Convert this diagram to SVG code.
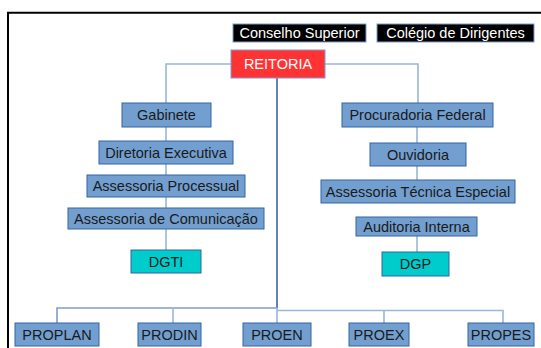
<svg xmlns="http://www.w3.org/2000/svg" width="541" height="348" viewBox="0 0 541 348">
<style>
text{font-family:"Liberation Sans",Arial,sans-serif;font-size:14.5px;text-anchor:middle;fill:#1a1a1a}
.b{fill:#729fcf;stroke:#3465a4;stroke-width:1}
.c{fill:#00cccc;stroke:#3465a4;stroke-width:1}
.k{fill:#000;stroke:#7f9ccc;stroke-width:1}
.r{fill:#ff3333;stroke:#7f9ccc;stroke-width:1}
.w{fill:#fff}
.l{stroke:#9ab6da;stroke-width:1.6;fill:none}
.d{stroke:#3c63a8;stroke-width:1.6;fill:none}
.m{stroke:#7f9ccc;stroke-width:1.6;fill:none}
</style>
<rect width="541" height="348" fill="#fff"/>
<path d="M8,348V12.7H541" fill="none" stroke="#000" stroke-width="2"/>
<g id="connectors">
<path class="l" d="M166,103V64H418V103"/>
<path class="l" d="M166,127V250"/>
<path class="l" d="M417,127V143M417,166V180M417,236V252"/>
<path class="d" d="M277,78V308"/>
<path class="m" d="M57,323V308H277"/>
<path class="l" d="M173,323V308"/>
<path class="l" d="M277,308V323M277,310.5H503V323M384,310.5V323"/>
</g>
<g id="conselho"><rect class="k" x="233" y="24" width="133" height="18"/><text class="w" x="299.5" y="38">Conselho Superior</text></g>
<g id="colegio"><rect class="k" x="377" y="24" width="157" height="18"/><text class="w" x="455.5" y="38">Colégio de Dirigentes</text></g>
<g id="reitoria"><rect class="r" x="231" y="50" width="94" height="28"/><text class="w" x="278" y="69">REITORIA</text></g>
<g id="gabinete"><rect class="b" x="122" y="103" width="89" height="24"/><text x="166.5" y="120">Gabinete</text></g>
<g id="diretoria"><rect class="b" x="99" y="141" width="134" height="23"/><text x="166" y="158">Diretoria Executiva</text></g>
<g id="asproc"><rect class="b" x="87" y="175" width="158" height="22"/><text x="166" y="191">Assessoria Processual</text></g>
<g id="ascom"><rect class="b" x="68" y="208" width="196" height="21"/><text x="166" y="224">Assessoria de Comunicação</text></g>
<g id="dgti"><rect class="c" x="131" y="250" width="70" height="23"/><text x="166" y="267">DGTI</text></g>
<g id="procuradoria"><rect class="b" x="342" y="103" width="151" height="24"/><text x="417.5" y="120">Procuradoria Federal</text></g>
<g id="ouvidoria"><rect class="b" x="370" y="143" width="96" height="23"/><text x="418" y="160">Ouvidoria</text></g>
<g id="ate"><rect class="b" x="321" y="180" width="194" height="23"/><text x="418" y="197">Assessoria Técnica Especial</text></g>
<g id="auditoria"><rect class="b" x="356" y="217" width="121" height="19"/><text x="416.5" y="232">Auditoria Interna</text></g>
<g id="dgp"><rect class="c" x="382" y="252" width="67" height="24"/><text x="415.5" y="269">DGP</text></g>
<g id="proplan"><rect class="b" x="15" y="323" width="84" height="23"/><text x="57" y="340">PROPLAN</text></g>
<g id="prodin"><rect class="b" x="138" y="323" width="63" height="23"/><text x="169.5" y="340">PRODIN</text></g>
<g id="proen"><rect class="b" x="243" y="323" width="68" height="23"/><text x="277" y="340">PROEN</text></g>
<g id="proex"><rect class="b" x="349" y="323" width="60" height="23"/><text x="379" y="340">PROEX</text></g>
<g id="propes"><rect class="b" x="468" y="323" width="66" height="23"/><text x="501" y="340">PROPES</text></g>
</svg>
